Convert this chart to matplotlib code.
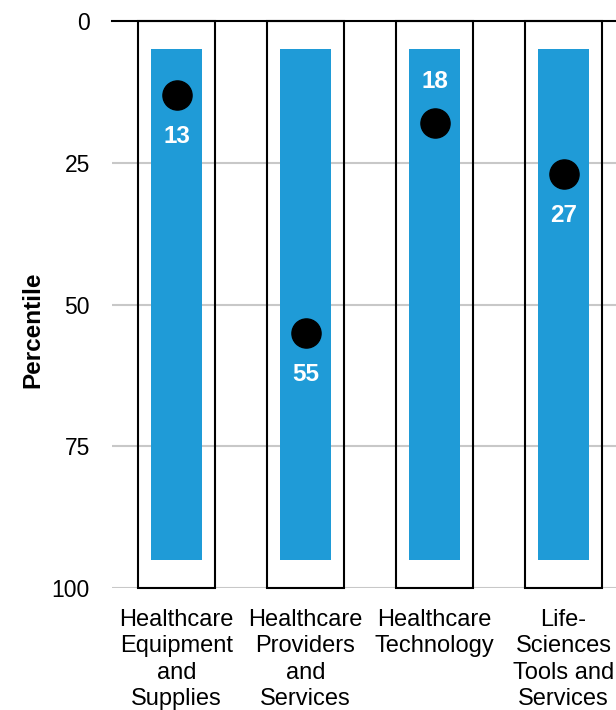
import matplotlib.pyplot as plt
import numpy as np

plt.rcParams['font.family'] = ['Liberation Sans', 'DejaVu Sans']

# sub-industry percentile ranks (0 = best, 100 = worst)
categories = ["Healthcare\nEquipment\nand\nSupplies",
              "Healthcare\nProviders\nand\nServices",
              "Healthcare\nTechnology",
              "Life-\nSciences\nTools and\nServices"]
percentiles = [13, 55, 18, 27]
label_side = ["below", "below", "above", "below"]
range_low = [5, 5, 5, 5]
range_high = [95, 95, 95, 95]
yticks = [0, 25, 50, 75, 100]

blue = '#1f9bd7'
x = np.arange(len(categories))

fig = plt.figure(figsize=(6.16, 7.10), dpi=100)
ax = fig.add_axes([112 / 616, 1 - 588 / 710, 516 / 616, 567 / 710])

# gridlines
for t in yticks[1:]:
    ax.axhline(t, color='#c8c8c8', lw=1.5, zorder=0)
ax.axhline(0, color='black', lw=1.5, zorder=3, clip_on=False)

# outline boxes spanning the full scale
ax.bar(x, 100, bottom=0, width=0.59, fill=False, edgecolor='black',
       lw=1.5, zorder=2, clip_on=False)

# blue range bars
lo = np.array(range_low)
hi = np.array(range_high)
ax.bar(x, hi - lo, bottom=lo, width=0.39, color=blue, zorder=3)

# percentile markers
ax.scatter(x, percentiles, s=440, color='black', zorder=4)
for xi, v, side in zip(x, percentiles, label_side):
    dy = -30 if side == "below" else 30
    ax.annotate(str(v), (xi, v), xytext=(0, dy), textcoords='offset points',
                ha='center', va='center', color='white', fontsize=17.5,
                fontweight='bold', zorder=5)

ax.set_xlim(-0.5, len(categories) - 0.5)
ax.set_ylim(100, 0)
ax.set_yticks(yticks)
ax.set_xticks(x)
ax.set_xticklabels(categories, fontsize=17, linespacing=1.26)
ax.tick_params(axis='y', length=0, pad=16, labelsize=16.5)
ax.tick_params(axis='x', length=0, pad=15)
for s in ax.spines.values():
    s.set_visible(False)

ax.set_ylabel("Percentile", fontsize=17.5, fontweight='bold')
ax.yaxis.set_label_coords(-0.132, 0.455)

fig.savefig('out.png', dpi=100)
